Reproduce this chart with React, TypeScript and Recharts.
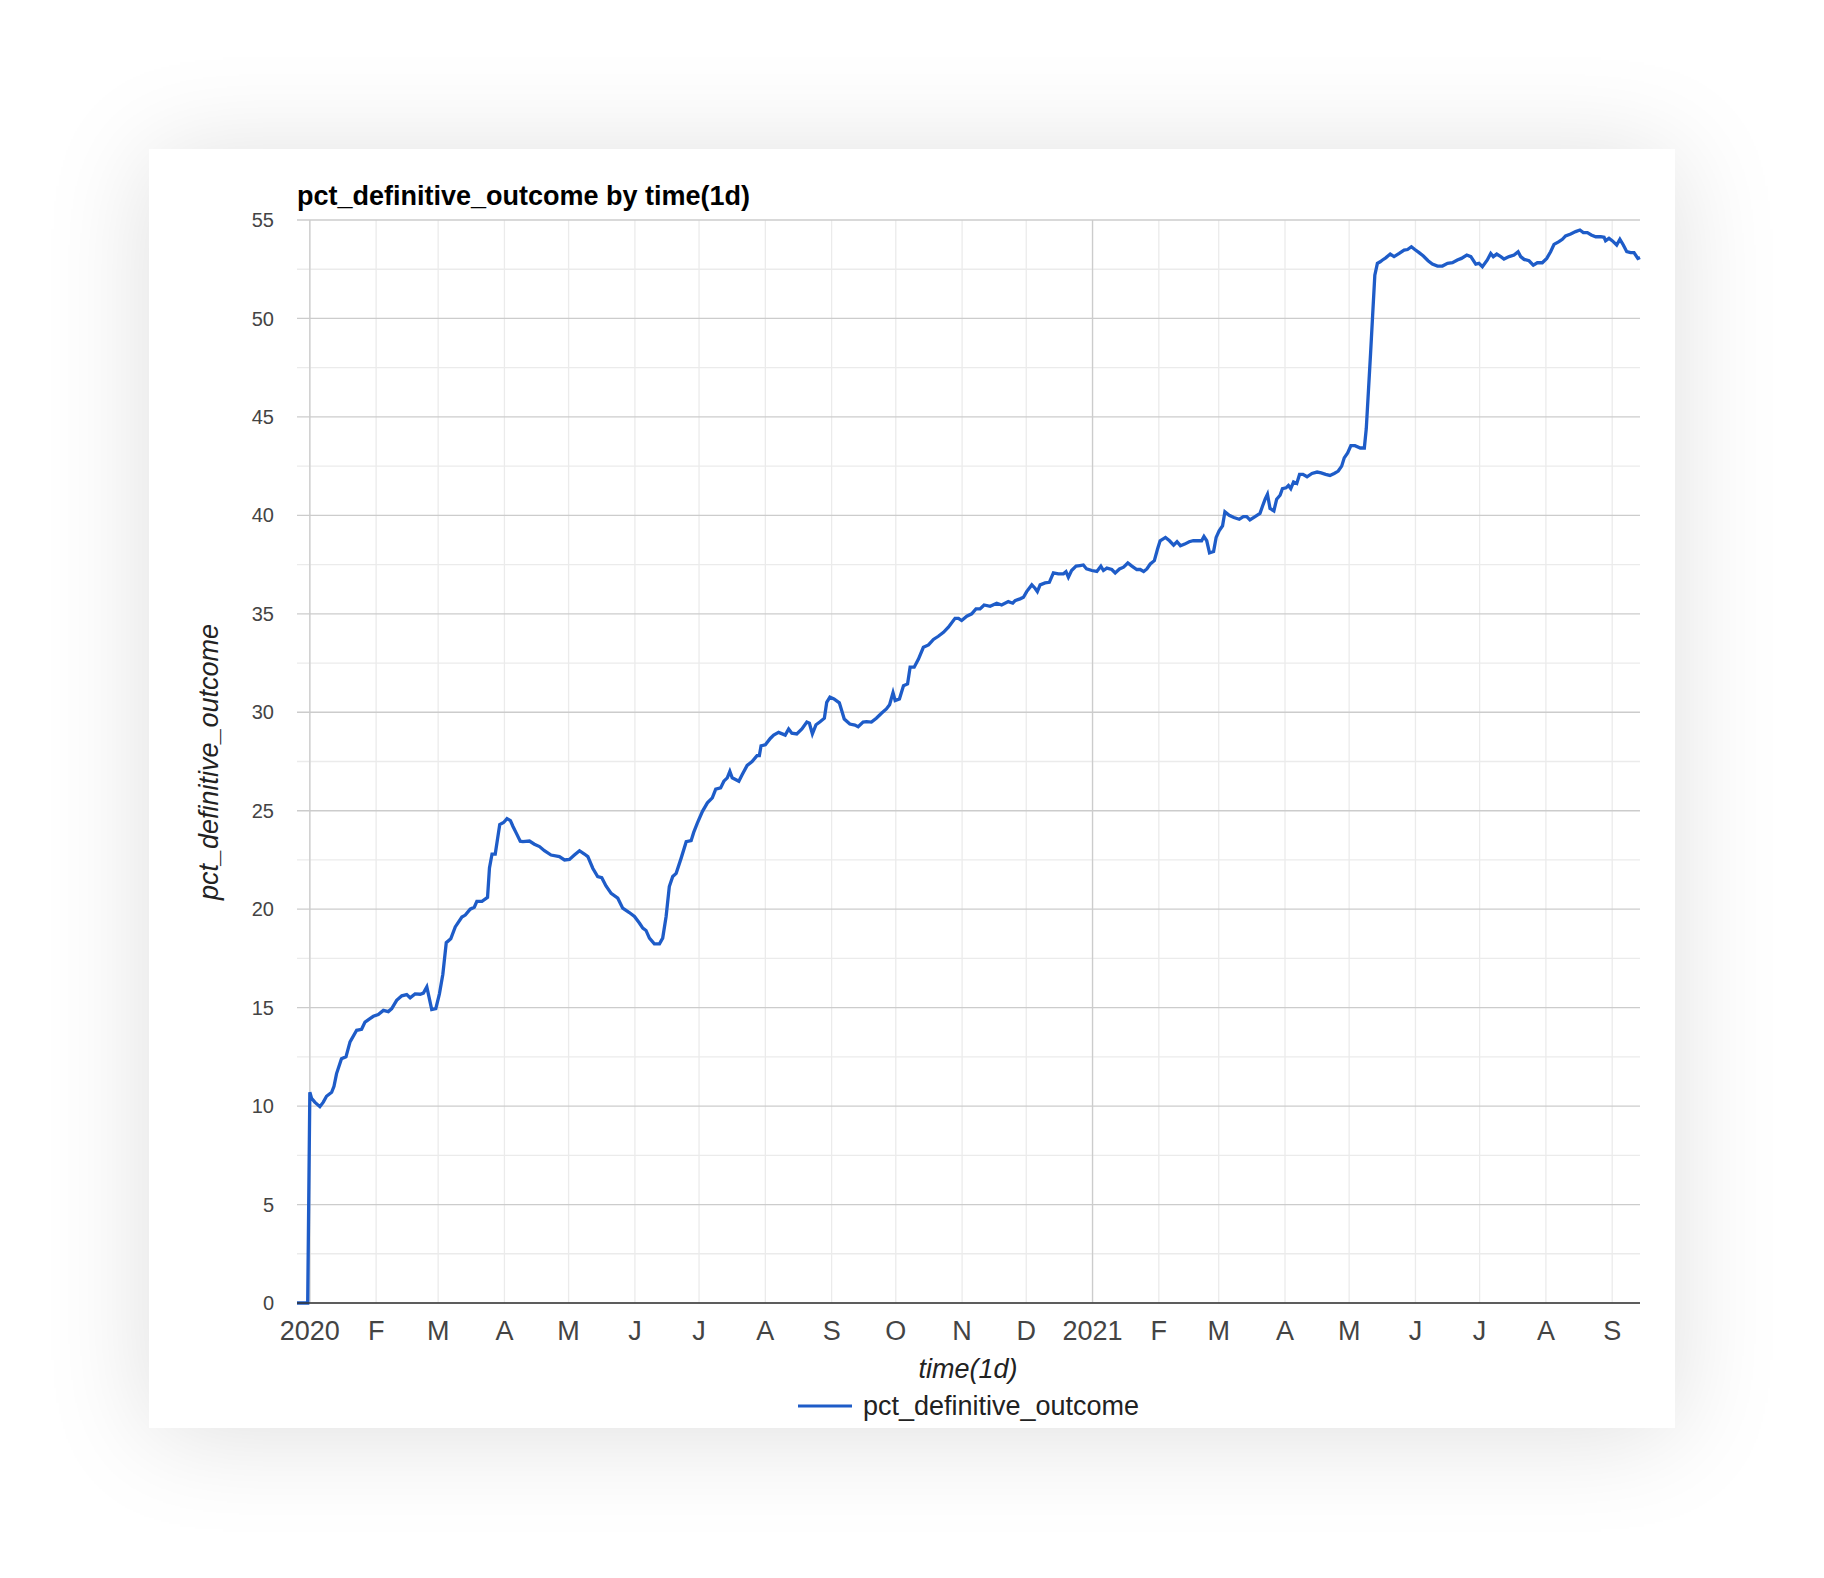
import { LineChart, Line, XAxis, YAxis, CartesianGrid, Legend } from 'recharts';

// x = days since 2020-01-01, y = pct_definitive_outcome
const DAYS = [
  -6, -1, 0, 0.8, 2.3, 4.7, 6.3, 7.8, 10.2, 11.3, 12.5, 14.8, 16.9, 18.8, 21.9, 24.2, 25.8, 28.1, 29.7, 32,
  34.4, 36.7, 38.3, 40.6, 43, 45.3, 46.9, 49.2, 51.6, 53.1, 54.7, 57, 58.9, 60.6, 62.2, 63.8, 65.9, 68, 71.1, 72.7,
  75, 76.9, 78.1, 80.5, 83.1, 84, 85.2, 86.7, 88.8, 90.6, 92.2, 93.8, 95, 96.6, 98.4, 99.6, 102.7, 105, 107.4, 109.7,
  112.8, 116.7, 119.1, 121.4, 123.7, 126.1, 128.4, 130, 132.3, 134.6, 136.5, 138.5, 140.9, 144, 146.3, 149.4, 151.8, 154.1, 155.7, 157.2,
  158.8, 161.1, 163.5, 165, 166.6, 168.1, 169.7, 171.3, 173.6, 176, 178.3, 179.5, 181.2, 183.6, 185.9, 188.2, 189.8, 192.1, 193.6, 195.2,
  196.4, 197.5, 200.6, 202.2, 204.5, 206.8, 209.1, 210.2, 211, 213, 215.3, 216.9, 219.2, 222.3, 223.9, 225.4, 227.7, 230.1, 232.4, 233.6,
  235, 236.7, 238.6, 240.6, 241.7, 243.2, 245.1, 247.6, 248.7, 249.9, 252.5, 254.9, 256.4, 258.7, 260.3, 262.6, 264.9, 267.3, 269.6, 271.1,
  272.7, 273.7, 275.7, 277.6, 279.5, 280.7, 282.6, 284.6, 286.9, 289.3, 291.6, 293.9, 296.3, 298.6, 301.7, 303.3, 304.8, 307.2, 309.5, 311.5,
  313.4, 315.3, 318.1, 321.2, 323.5, 326.6, 328.7, 329.8, 332.1, 333.7, 335.2, 337.6, 339.1, 340.2, 341.5, 343.8, 345.8, 347.7, 350, 352.4,
  353.6, 354.7, 356.2, 358.3, 360.1, 361.7, 363.2, 365.7, 368, 369.9, 371.1, 372.7, 375, 376.6, 378.6, 380.5, 382.5, 384.4, 386.7, 388.3,
  389.9, 391.4, 393, 394.9, 396.4, 397.6, 400.1, 402, 403.9, 405.5, 407.1, 409.1, 411.2, 413.1, 414.7, 417, 418.1, 419.4, 420.7, 422.6,
  423.8, 425.2, 426.8, 427.9, 429.9, 432.1, 434.6, 436.5, 438.1, 439.6, 442, 444.3, 445.6, 446.7, 447.8, 449, 450.8, 452.1, 453.7, 454.8,
  456.5, 457.6, 458.7, 460, 461.5, 462.8, 464.4, 466.3, 468.6, 471, 472.9, 475, 477, 479, 480.9, 482.5, 483.7, 485.3, 486.8, 488.7,
  491.2, 493.1, 494, 495, 496, 497, 498, 499.2, 500.5, 501.6, 503.1, 505.2, 507, 509.4, 511.7, 513.3, 515.1, 516.7, 518.7, 520.7,
  522.9, 524.9, 527.3, 529.6, 532, 534.3, 536.6, 538.5, 541, 542.9, 545.2, 546.7, 548.3, 550.6, 552.2, 553.4, 555, 556.9, 558.4, 560.8,
  563.1, 565, 566.2, 567.8, 570.1, 572.1, 574, 576.3, 578.4, 580.2, 581.8, 584.1, 585.7, 587.2, 589.6, 591.9, 593.9, 595.5, 597.4, 599.2,
  601.3, 603.6, 605.2, 605.9, 607.5, 609, 611.1, 612.6, 614.2, 615.8, 617.6, 619.2, 621, 622,
];

const VALUES = [
  0, 0, 10.7, 10.4, 10.2, 9.97, 10.2, 10.5, 10.7, 11.0, 11.65, 12.4, 12.5, 13.26, 13.85, 13.9, 14.27, 14.44, 14.56, 14.65,
  14.86, 14.8, 14.95, 15.37, 15.6, 15.66, 15.5, 15.7, 15.68, 15.74, 16.05, 14.9, 14.95, 15.7, 16.7, 18.3, 18.5, 19.1, 19.6, 19.7,
  20.0, 20.1, 20.4, 20.4, 20.6, 22.1, 22.8, 22.8, 24.3, 24.4, 24.6, 24.5, 24.2, 23.85, 23.45, 23.43, 23.46, 23.3, 23.18, 22.97,
  22.75, 22.67, 22.5, 22.53, 22.75, 22.97, 22.8, 22.67, 22.08, 21.66, 21.6, 21.18, 20.8, 20.56, 20.05, 19.83, 19.63, 19.3, 19.04, 18.92,
  18.53, 18.24, 18.24, 18.53, 19.63, 21.15, 21.66, 21.82, 22.58, 23.43, 23.48, 23.9, 24.37, 24.97, 25.4, 25.65, 26.1, 26.16, 26.5, 26.67,
  27.0, 26.67, 26.5, 26.84, 27.3, 27.5, 27.8, 27.8, 28.3, 28.35, 28.67, 28.84, 28.98, 28.84, 29.15, 28.94, 28.9, 29.15, 29.5, 29.44,
  28.9, 29.37, 29.52, 29.7, 30.5, 30.77, 30.68, 30.48, 30.09, 29.66, 29.4, 29.35, 29.27, 29.5, 29.52, 29.5, 29.7, 29.95, 30.17, 30.38,
  31.0, 30.6, 30.68, 31.35, 31.44, 32.29, 32.29, 32.7, 33.3, 33.42, 33.7, 33.86, 34.06, 34.32, 34.77, 34.77, 34.66, 34.88, 35.0, 35.25,
  35.25, 35.45, 35.38, 35.54, 35.45, 35.62, 35.54, 35.67, 35.76, 35.84, 36.13, 36.47, 36.3, 36.13, 36.47, 36.57, 36.6, 37.08, 37.03, 37.03,
  37.14, 36.86, 37.2, 37.42, 37.45, 37.48, 37.28, 37.2, 37.15, 37.42, 37.2, 37.32, 37.25, 37.08, 37.28, 37.37, 37.58, 37.42, 37.25, 37.25,
  37.15, 37.28, 37.53, 37.7, 38.29, 38.71, 38.88, 38.71, 38.49, 38.66, 38.46, 38.54, 38.66, 38.71, 38.71, 38.71, 38.93, 38.71, 38.09, 38.16,
  38.88, 39.22, 39.47, 40.18, 40.0, 39.89, 39.8, 39.94, 39.94, 39.77, 39.94, 40.1, 40.5, 40.82, 41.07, 40.35, 40.23, 40.82, 41.02, 41.36,
  41.4, 41.52, 41.36, 41.7, 41.62, 42.08, 42.08, 41.96, 42.13, 42.2, 42.16, 42.08, 42.03, 42.13, 42.25, 42.5, 42.92, 43.17, 43.54, 43.54,
  43.42, 43.42, 44.4, 46.3, 48.2, 50.2, 52.2, 52.8, 52.88, 52.97, 53.08, 53.27, 53.14, 53.3, 53.47, 53.5, 53.64, 53.5, 53.34, 53.17,
  52.93, 52.76, 52.66, 52.66, 52.8, 52.83, 52.97, 53.05, 53.22, 53.14, 52.76, 52.8, 52.63, 52.97, 53.3, 53.14, 53.27, 53.14, 53.02, 53.14,
  53.22, 53.39, 53.14, 53.0, 52.93, 52.71, 52.83, 52.83, 53.05, 53.39, 53.76, 53.9, 54.02, 54.19, 54.29, 54.41, 54.49, 54.36, 54.36, 54.24,
  54.15, 54.15, 54.12, 53.95, 54.07, 53.95, 53.73, 54.02, 53.73, 53.39, 53.34, 53.34, 53.05, 53.1,
];

// month starts (days since 2020-01-01) and their labels
const MONTH_TICKS = [0, 31, 60, 91, 121, 152, 182, 213, 244, 274, 305, 335, 366, 397, 425, 456, 486, 517, 547, 578, 609];
const MONTH_LABELS = ['2020', 'F', 'M', 'A', 'M', 'J', 'J', 'A', 'S', 'O', 'N', 'D', '2021', 'F', 'M', 'A', 'M', 'J', 'J', 'A', 'S'];
const YEAR_TICKS = [0, 366];
const Y_TICKS = [0, 5, 10, 15, 20, 25, 30, 35, 40, 45, 50, 55];
const Y_MINOR = [2.5, 7.5, 12.5, 17.5, 22.5, 27.5, 32.5, 37.5, 42.5, 47.5, 52.5];

const data = DAYS.map((d, i) => ({ day: d, pct_definitive_outcome: VALUES[i] }));

const FONT = 'Arial, "Liberation Sans", Helvetica, sans-serif';
const BLUE = '#1e5cc8';

function LegendBox() {
  return (
    <div
      style={{
        height: 40,
        display: 'flex',
        alignItems: 'center',
        justifyContent: 'center',
        paddingLeft: 148,
        boxSizing: 'border-box',
        fontFamily: FONT,
      }}
    >
      <svg width={54} height={6}>
        <line x1={0} y1={3} x2={54} y2={3} stroke={BLUE} strokeWidth={3} />
      </svg>
      <span style={{ marginLeft: 11, fontSize: 27, color: '#222', lineHeight: '40px' }}>pct_definitive_outcome</span>
    </div>
  );
}

export default function App() {
  return (
    <div style={{ position: 'absolute', left: 0, top: 0, width: 1824, height: 1578, background: '#fff', overflow: 'hidden' }}>
      <div
        style={{
          position: 'absolute',
          left: 149,
          top: 149,
          width: 1526,
          height: 1279,
          background: '#fff',
          boxShadow: '0 6px 100px rgba(0,0,0,0.13)',
          fontFamily: FONT,
        }}
      >
        <LineChart
          width={1526}
          height={1279}
          data={data}
          margin={{ top: 71, right: 35, left: 0, bottom: 2 }}
          style={{ position: 'absolute', left: 0, top: 0 }}
        >
          <CartesianGrid
            stroke="#ebebeb"
            strokeWidth={1.3}
            horizontalValues={Y_MINOR}
            verticalValues={MONTH_TICKS}
          />
          <CartesianGrid
            stroke="#cccccc"
            strokeWidth={1.3}
            horizontalValues={Y_TICKS}
            verticalValues={YEAR_TICKS}
          />
          <XAxis
            dataKey="day"
            type="number"
            domain={[-6, 622]}
            ticks={MONTH_TICKS}
            interval={0}
            height={83}
            tickSize={0}
            tickMargin={18}
            tickFormatter={(v: number) => MONTH_LABELS[MONTH_TICKS.indexOf(v)] ?? ''}
            tick={{ fontSize: 27, fill: '#444', fontFamily: FONT }}
            axisLine={{ stroke: '#333', strokeWidth: 1.5 }}
          />
          <YAxis
            type="number"
            domain={[0, 55]}
            ticks={Y_TICKS}
            interval={0}
            width={148}
            tickSize={0}
            tickMargin={23}
            axisLine={false}
            tick={{ fontSize: 20, fill: '#444', fontFamily: FONT }}
          />
          <Legend verticalAlign="bottom" height={40} content={() => <LegendBox />} />
          <Line
            type="linear"
            dataKey="pct_definitive_outcome"
            stroke={BLUE}
            strokeWidth={3.3}
            dot={false}
            activeDot={false}
            isAnimationActive={false}
          />
        </LineChart>

        <div
          style={{
            position: 'absolute',
            left: 148,
            top: 34,
            fontSize: 27,
            lineHeight: '27px',
            fontWeight: 'bold',
            color: '#000',
            whiteSpace: 'nowrap',
          }}
        >
          pct_definitive_outcome by time(1d)
        </div>
        <div
          style={{
            position: 'absolute',
            left: 60,
            top: 613,
            transform: 'translate(-50%, -50%) rotate(-90deg)',
            fontSize: 27,
            lineHeight: '27px',
            fontStyle: 'italic',
            color: '#222',
            whiteSpace: 'nowrap',
          }}
        >
          pct_definitive_outcome
        </div>
        <div
          style={{
            position: 'absolute',
            left: 819,
            top: 1220,
            transform: 'translate(-50%, -50%)',
            fontSize: 27,
            lineHeight: '27px',
            fontStyle: 'italic',
            color: '#222',
            whiteSpace: 'nowrap',
          }}
        >
          time(1d)
        </div>
      </div>
    </div>
  );
}
